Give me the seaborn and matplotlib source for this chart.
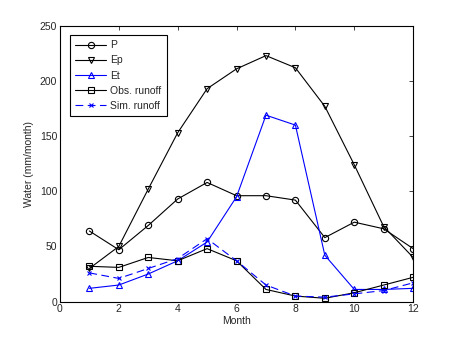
import numpy as np
import pandas as pd
import matplotlib
matplotlib.use('Agg')
import matplotlib.pyplot as plt
import seaborn as sns

# Datos (mm/mes)
meses = [1, 2, 3, 4, 5, 6, 7, 8, 9, 10, 11, 12]
p = [64, 47, 69, 93, 108, 96, 96, 92, 58, 72, 66, 48]
ep = [30, 50, 102, 153, 193, 211, 223, 212, 177, 124, 68, 40]
et = [12, 15, 25, 37, 54, 95, 169, 160, 42, 11, 11, 12]
obs_runoff = [32, 31, 40, 37, 48, 37, 11, 5, 3, 8, 15, 22]
sim_runoff = [26, 21, 30, 39, 57, 37, 15, 5, 4, 7, 10, 17]

sns.set_style('white')
plt.rcParams['font.family'] = ['Liberation Sans', 'DejaVu Sans']
plt.rcParams['font.size'] = 7.5

fig = plt.figure(figsize=(4.54, 3.40), dpi=100)
ax = fig.add_axes([0.132, 0.113, 0.778, 0.811])

series = [
    ('P', p, 'black', 'o', '-', 4.5),
    ('Ep', ep, 'black', 'v', '-', 5),
    ('Et', et, 'blue', '^', '-', 5),
    ('Obs. runoff', obs_runoff, 'black', 's', '-', 5),
    ('Sim. runoff', sim_runoff, 'blue', 'x', (0, (7, 4)), 3),
]

for nombre, valores, color, marca, estilo, tam in series:
    df = pd.DataFrame({'Month': meses, 'Water': valores})
    sns.lineplot(data=df, x='Month', y='Water', ax=ax, color=color,
                 linestyle=estilo, linewidth=0.8, marker=marca, markersize=tam,
                 markerfacecolor='none', markeredgecolor=color,
                 markeredgewidth=0.8, label=nombre)

ax.set_xlim(0, 12)
ax.set_ylim(0, 250)
ax.set_xticks(range(0, 13, 2))
ax.set_yticks(range(0, 251, 50))
ax.set_xlabel('Month', labelpad=1)
ax.set_ylabel('Water (mm/month)', labelpad=4)
ax.tick_params(direction='in', length=3, width=0.6, top=True, right=True, pad=2)
for s in ax.spines.values():
    s.set_visible(True)
    s.set_color('black')
    s.set_linewidth(0.8)

leg = ax.legend(loc='upper left', bbox_to_anchor=(0.028, 0.967), borderaxespad=0,
                frameon=True, fancybox=False, edgecolor='black', framealpha=1,
                handlelength=3.0, borderpad=0.5, labelspacing=0.5,
                handletextpad=0.4)
leg.get_frame().set_linewidth(0.8)

fig.savefig('out.png', dpi=100)
